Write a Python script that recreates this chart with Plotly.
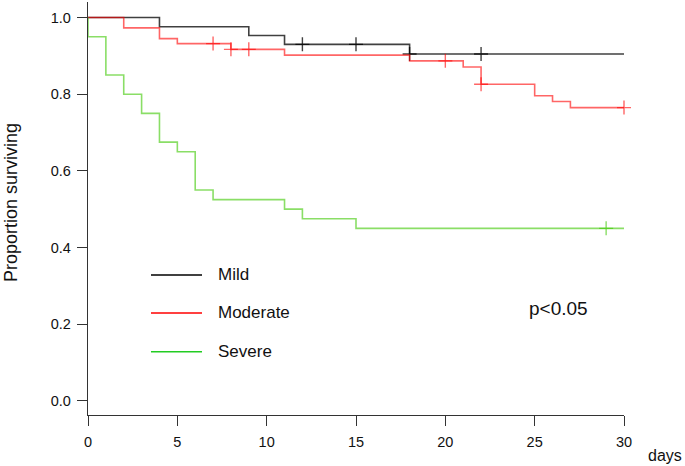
import numpy as np
import plotly.graph_objects as go

# ---- data ----
mild_t = [0, 4, 9, 11, 18, 30]
mild_s = [1.0, 0.976, 0.953, 0.930, 0.905, 0.905]
mild_cens = [12, 15, 18, 22]

mod_t = [0, 2, 4, 5, 8, 11, 18, 21, 22, 25, 26, 27, 30]
mod_s = [1.0, 0.973, 0.945, 0.932, 0.917, 0.902, 0.887, 0.871, 0.826, 0.796, 0.781, 0.765, 0.765]
mod_cens = [7, 8, 9, 20, 22, 30]

sev_t = [0, 0, 1, 2, 3, 4, 5, 6, 7, 11, 12, 15, 30]
sev_s = [1.0, 0.95, 0.85, 0.80, 0.75, 0.675, 0.65, 0.55, 0.525, 0.50, 0.475, 0.45, 0.45]
sev_cens = [29]

groups = ["Mild", "Moderate", "Severe"]
curve_colors = ["rgba(0,0,0,0.75)", "rgba(255,0,0,0.6)", "rgba(60,200,0,0.6)"]
legend_colors = ["#000000", "#ff0000", "#22cc22"]

x_ticks = [0, 5, 10, 15, 20, 25, 30]
y_ticks = [0.0, 0.2, 0.4, 0.6, 0.8, 1.0]


def surv_at(times, surv, t):
    idx = np.searchsorted(np.array(times), t, side="right") - 1
    return surv[idx]


fig = go.Figure()
series = [(mild_t, mild_s, mild_cens), (mod_t, mod_s, mod_cens), (sev_t, sev_s, sev_cens)]
for (t, s, c), col in zip(series, curve_colors):
    fig.add_trace(go.Scatter(x=t, y=s, mode="lines", line=dict(color=col, width=1.6, shape="hv"),
                             showlegend=False, hoverinfo="skip"))
    cy = [surv_at(t, s, ci) for ci in c]
    fig.add_trace(go.Scatter(x=c, y=cy, mode="markers", cliponaxis=False,
                             marker=dict(symbol="cross-thin", size=10, line=dict(color=col, width=1.4)),
                             showlegend=False, hoverinfo="skip"))

# legend drawn manually
leg_y = [0.339, 0.247, 0.153]
for name, col, yy in zip(groups, legend_colors, leg_y):
    fig.add_shape(type="line", xref="paper", yref="paper", x0=0.1175, x1=0.2127, y0=yy, y1=yy,
                  line=dict(color=col, width=1.5))
    fig.add_annotation(xref="paper", yref="paper", x=0.239, y=yy, text=name, showarrow=False,
                       xanchor="left", yanchor="middle", font=dict(size=17, color="#111"))

fig.add_annotation(xref="paper", yref="paper", x=0.819, y=0.259, text="p<0.05", showarrow=False,
                   xanchor="left", yanchor="middle", font=dict(size=19, color="#111"))
fig.add_annotation(xref="paper", yref="paper", x=1.0765, y=-0.099, text="days", showarrow=False,
                   xanchor="center", yanchor="middle", font=dict(size=16, color="#111"))
fig.add_annotation(xref="paper", yref="paper", x=-0.144, y=0.515, text="Proportion surviving",
                   showarrow=False, textangle=-90, xanchor="center", yanchor="middle",
                   font=dict(size=18, color="#111"))

fig.update_layout(
    width=685, height=466,
    margin=dict(l=88, r=61, t=2, b=51),
    paper_bgcolor="white", plot_bgcolor="white",
    font=dict(family="Liberation Sans, Arial, sans-serif", color="#111"),
    xaxis=dict(range=[0, 30], tickvals=x_ticks, ticks="outside", ticklen=10, tickwidth=1.2,
               tickcolor="#333", showline=True, linecolor="#333", linewidth=1.3,
               showgrid=False, zeroline=False, tickfont=dict(size=14.5), ticklabelstandoff=3),
    yaxis=dict(range=[-0.037, 1.0405], tickvals=y_ticks, tickformat=".1f", ticks="outside",
               ticklen=10, tickwidth=1.2, tickcolor="#333", showline=True, linecolor="#333",
               linewidth=1.3, showgrid=False, zeroline=False, tickfont=dict(size=14.5),
               ticklabelstandoff=3),
)

fig.write_html("out.html", post_script="document.body.style.margin='0';",
               config={"displayModeBar": False})
